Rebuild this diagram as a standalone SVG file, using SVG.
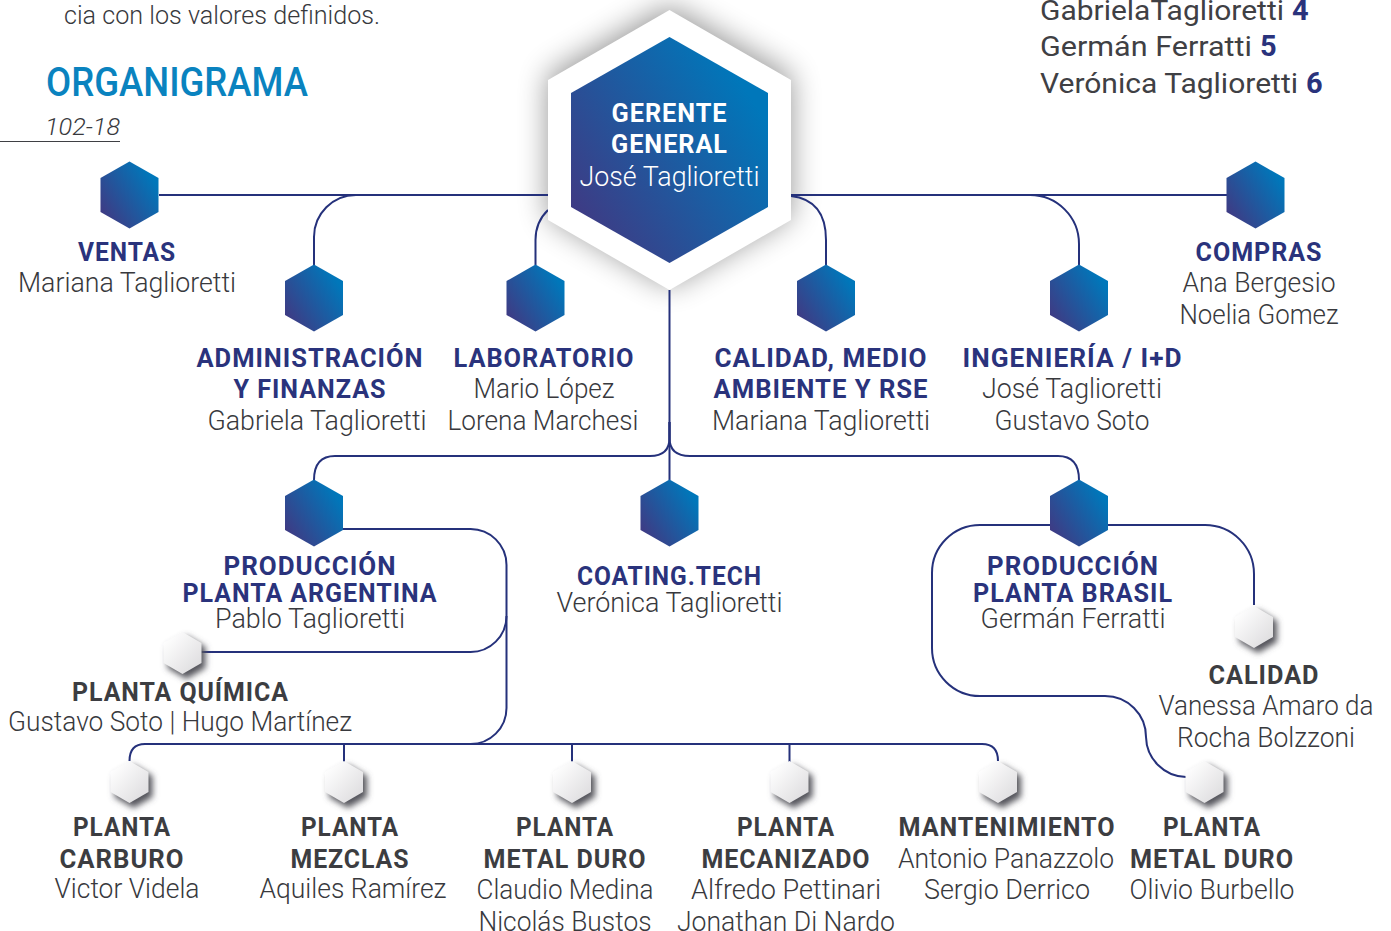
<svg xmlns="http://www.w3.org/2000/svg" width="1391" height="931" viewBox="0 0 1391 931">
<style>
text{font-family:"Roboto","Liberation Sans",sans-serif;text-anchor:middle;font-size:27px;fill:#3f4044}
.n{font-weight:300;fill:#38393d;transform:translateY(1px)}
.b{font-weight:700;letter-spacing:1px;fill:#2a337c;font-size:26px;transform:translateY(1px)}
.d{font-weight:700;letter-spacing:1px;fill:#3c3d41;font-size:26px;transform:translateY(1px)}
.t{font-weight:700;letter-spacing:1px;fill:#fff;font-size:26px}
.l{text-anchor:start}
.g{font-weight:400;text-anchor:start;fill:#3f4044}
.k{font-weight:700;text-anchor:start;fill:#2a337c}
#c path{fill:none;stroke:#25317b;stroke-width:2}
</style>
<defs>
<linearGradient id="g" x1="0.1" y1="0.85" x2="0.9" y2="0.25"><stop offset="0" stop-color="#3d3c85"/><stop offset="1" stop-color="#0077ba"/></linearGradient>
<linearGradient id="s" x1="0.1" y1="0.1" x2="0.9" y2="0.9"><stop offset="0" stop-color="#fff"/><stop offset="1" stop-color="#dedddf"/></linearGradient>
<filter id="f1" x="-30%" y="-30%" width="160%" height="160%"><feGaussianBlur stdDeviation="15"/></filter>
<filter id="f2" x="-40%" y="-40%" width="180%" height="180%"><feGaussianBlur stdDeviation="3.200"/></filter>
<polygon id="hb" points="0,-33.5 29,-17 29,17 0,33.5 -29,17 -29,-17" fill="url(#g)"/>
<g id="hw"><polygon points="0,-21 19,-10 19,11 0,22 -19,11 -19,-10" transform="translate(4,4)" fill="#55555c" filter="url(#f2)"/><polygon points="0,-21 19,-10 19,10 0,21 -19,10 -19,-10" fill="url(#s)"/></g>
</defs>
<rect width="1391" height="931" fill="#fff"/>
<g id="gerente-shadow"><polygon points="669.500,6 791,76 791,216 669.500,286 548,216 548,76" fill="#000" opacity=".42" filter="url(#f1)"/></g>
<g id="c">
<path d="M159 195H548M791 195H1227"/>
<path d="M314 265V237A42 42 0 0 1 356 195"/>
<path d="M535.500 265V240Q535.500 222 548 210"/>
<path d="M791 196Q826 200 826 240V265"/>
<path d="M1030 195A49 49 0 0 1 1079 244V265"/>
<path d="M669.500 290V480"/>
<path d="M669.500 422V438Q669.500 456 650 456H335Q314 456 314 480"/>
<path d="M669.500 422V438Q669.500 456 690 456H1058Q1079 456 1079 480"/>
<path d="M343 529H470A36 36 0 0 1 506.500 565V708A36 36 0 0 1 470 744H145Q129.500 744 129.500 761"/>
<path d="M201 652H470A36 36 0 0 0 506.500 616"/>
<path d="M470 744H982Q998 744 998 761M344 744V762M572 744V762M789.500 744V762"/>
<path d="M1050 525H980A48 48 0 0 0 932 573V648A48 48 0 0 0 980 696H1105A41 41 0 0 1 1146 737A41 41 0 0 0 1186 777"/>
<path d="M1108 525H1205A49 49 0 0 1 1254 574V605"/>
</g>
<g id="intro"><text class="n l" x="64" y="23" style="font-size:25px" textLength="316" lengthAdjust="spacingAndGlyphs">cia con los valores definidos.</text></g>
<g id="title"><text class="l" x="46" y="96" style="font-size:41px;fill:#0a83bf;font-weight:500" textLength="262" lengthAdjust="spacingAndGlyphs">ORGANIGRAMA</text><text class="n l" x="45" y="134" style="font-size:24px;font-style:italic" textLength="75" lengthAdjust="spacingAndGlyphs">102-18</text><path d="M0 141.500H120" stroke="#3f4044" fill="none"/></g>
<g id="legend">
<text class="g" x="1040" y="20" textLength="244" lengthAdjust="spacingAndGlyphs">GabrielaTaglioretti</text><text class="k" x="1292" y="20" style="font-size:29px">4</text>
<text class="g" x="1040" y="56" textLength="212" lengthAdjust="spacingAndGlyphs">Germán Ferratti</text><text class="k" x="1260" y="56" style="font-size:29px">5</text>
<text class="g" x="1040" y="93" textLength="258" lengthAdjust="spacingAndGlyphs">Verónica Taglioretti</text><text class="k" x="1306" y="93" style="font-size:29px">6</text>
</g>
<g id="gerente">
<polygon points="669.500,10 791,80 791,220 669.500,290 548,220 548,80" fill="#fff"/>
<polygon points="669.500,37 768,93 768,207 669.500,263 571,207 571,93" fill="url(#g)"/>
<text class="t" x="669.500" y="122" textLength="116" lengthAdjust="spacingAndGlyphs">GERENTE</text>
<text class="t" x="669.500" y="153" textLength="117" lengthAdjust="spacingAndGlyphs">GENERAL</text>
<text class="n" x="669.500" y="185" style="fill:#fff" textLength="180" lengthAdjust="spacingAndGlyphs">José Taglioretti</text>
</g>
<g id="ventas"><use href="#hb" x="129.500" y="195"/><text class="b" x="127" y="260" textLength="98" lengthAdjust="spacingAndGlyphs">VENTAS</text><text class="n" x="127" y="291" textLength="218" lengthAdjust="spacingAndGlyphs">Mariana Taglioretti</text></g>
<g id="compras"><use href="#hb" x="1255.500" y="195"/><text class="b" x="1259" y="260" textLength="127" lengthAdjust="spacingAndGlyphs">COMPRAS</text><text class="n" x="1259" y="291" textLength="153" lengthAdjust="spacingAndGlyphs">Ana Bergesio</text><text class="n" x="1259" y="323" textLength="159" lengthAdjust="spacingAndGlyphs">Noelia Gomez</text></g>
<g id="admin"><use href="#hb" x="314" y="298"/><text class="b" x="310" y="366" textLength="227" lengthAdjust="spacingAndGlyphs">ADMINISTRACIÓN</text><text class="b" x="310" y="397" textLength="153" lengthAdjust="spacingAndGlyphs">Y FINANZAS</text><text class="n" x="317" y="429" textLength="219" lengthAdjust="spacingAndGlyphs">Gabriela Taglioretti</text></g>
<g id="laboratorio"><use href="#hb" x="535.500" y="298"/><text class="b" x="544" y="366" textLength="181" lengthAdjust="spacingAndGlyphs">LABORATORIO</text><text class="n" x="544" y="397" textLength="141" lengthAdjust="spacingAndGlyphs">Mario López</text><text class="n" x="543" y="429" textLength="191" lengthAdjust="spacingAndGlyphs">Lorena Marchesi</text></g>
<g id="calidad"><use href="#hb" x="826" y="298"/><text class="b" x="821" y="366" textLength="213" lengthAdjust="spacingAndGlyphs">CALIDAD, MEDIO</text><text class="b" x="821" y="397" textLength="215" lengthAdjust="spacingAndGlyphs">AMBIENTE Y RSE</text><text class="n" x="821" y="429" textLength="218" lengthAdjust="spacingAndGlyphs">Mariana Taglioretti</text></g>
<g id="ingenieria"><use href="#hb" x="1079" y="298"/><text class="b" x="1072.500" y="366" textLength="220" lengthAdjust="spacingAndGlyphs">INGENIERÍA / I+D</text><text class="n" x="1072" y="397" textLength="180" lengthAdjust="spacingAndGlyphs">José Taglioretti</text><text class="n" x="1072" y="429" textLength="155" lengthAdjust="spacingAndGlyphs">Gustavo Soto</text></g>
<g id="prodarg"><use href="#hb" x="314" y="513"/><text class="b" x="310" y="574" textLength="173" lengthAdjust="spacingAndGlyphs">PRODUCCIÓN</text><text class="b" x="310" y="600.500" textLength="255" lengthAdjust="spacingAndGlyphs">PLANTA ARGENTINA</text><text class="n" x="310" y="627" textLength="190" lengthAdjust="spacingAndGlyphs">Pablo Taglioretti</text></g>
<g id="coating"><use href="#hb" x="669.500" y="513"/><text class="b" x="669.500" y="584" textLength="185" lengthAdjust="spacingAndGlyphs">COATING.TECH</text><text class="n" x="669.500" y="611" textLength="226" lengthAdjust="spacingAndGlyphs">Verónica Taglioretti</text></g>
<g id="prodbr"><use href="#hb" x="1079" y="513"/><text class="b" x="1073" y="574" textLength="172" lengthAdjust="spacingAndGlyphs">PRODUCCIÓN</text><text class="b" x="1073" y="600.500" textLength="200" lengthAdjust="spacingAndGlyphs">PLANTA BRASIL</text><text class="n" x="1073" y="627" textLength="185" lengthAdjust="spacingAndGlyphs">Germán Ferratti</text></g>
<g id="quimica"><use href="#hw" x="182.500" y="653"/><text class="d" x="180.500" y="700" textLength="217" lengthAdjust="spacingAndGlyphs">PLANTA QUÍMICA</text><text class="n" x="180" y="730" textLength="344" lengthAdjust="spacingAndGlyphs">Gustavo Soto | Hugo Martínez</text></g>
<g id="calidadbr"><use href="#hw" x="1254" y="627"/><text class="d" x="1264" y="683" textLength="111" lengthAdjust="spacingAndGlyphs">CALIDAD</text><text class="n" x="1266" y="714" textLength="215" lengthAdjust="spacingAndGlyphs">Vanessa Amaro da</text><text class="n" x="1266" y="746" textLength="178" lengthAdjust="spacingAndGlyphs">Rocha Bolzzoni</text></g>
<g id="carburo"><use href="#hw" x="129.500" y="782"/><text class="d" x="122" y="835" textLength="98" lengthAdjust="spacingAndGlyphs">PLANTA</text><text class="d" x="122" y="867" textLength="125" lengthAdjust="spacingAndGlyphs">CARBURO</text><text class="n" x="127" y="897" textLength="145" lengthAdjust="spacingAndGlyphs">Victor Videla</text></g>
<g id="mezclas"><use href="#hw" x="344" y="782"/><text class="d" x="350" y="835" textLength="98" lengthAdjust="spacingAndGlyphs">PLANTA</text><text class="d" x="350" y="867" textLength="119" lengthAdjust="spacingAndGlyphs">MEZCLAS</text><text class="n" x="353" y="897" textLength="187" lengthAdjust="spacingAndGlyphs">Aquiles Ramírez</text></g>
<g id="metal"><use href="#hw" x="572" y="782"/><text class="d" x="565" y="835" textLength="98" lengthAdjust="spacingAndGlyphs">PLANTA</text><text class="d" x="565" y="867" textLength="163" lengthAdjust="spacingAndGlyphs">METAL DURO</text><text class="n" x="565" y="898" textLength="177" lengthAdjust="spacingAndGlyphs">Claudio Medina</text><text class="n" x="565" y="930" textLength="173" lengthAdjust="spacingAndGlyphs">Nicolás Bustos</text></g>
<g id="mecanizado"><use href="#hw" x="789.500" y="782"/><text class="d" x="786" y="835" textLength="98" lengthAdjust="spacingAndGlyphs">PLANTA</text><text class="d" x="786" y="867" textLength="169" lengthAdjust="spacingAndGlyphs">MECANIZADO</text><text class="n" x="786" y="898" textLength="190" lengthAdjust="spacingAndGlyphs">Alfredo Pettinari</text><text class="n" x="786" y="930" textLength="218" lengthAdjust="spacingAndGlyphs">Jonathan Di Nardo</text></g>
<g id="mantenimiento"><use href="#hw" x="998" y="782"/><text class="d" x="1007" y="835" textLength="217" lengthAdjust="spacingAndGlyphs">MANTENIMIENTO</text><text class="n" x="1006" y="867" textLength="216" lengthAdjust="spacingAndGlyphs">Antonio Panazzolo</text><text class="n" x="1007" y="898" textLength="166" lengthAdjust="spacingAndGlyphs">Sergio Derrico</text></g>
<g id="metalbr"><use href="#hw" x="1204.500" y="782"/><text class="d" x="1212" y="835" textLength="98" lengthAdjust="spacingAndGlyphs">PLANTA</text><text class="d" x="1212" y="867" textLength="164" lengthAdjust="spacingAndGlyphs">METAL DURO</text><text class="n" x="1212" y="898" textLength="165" lengthAdjust="spacingAndGlyphs">Olivio Burbello</text></g>
</svg>
